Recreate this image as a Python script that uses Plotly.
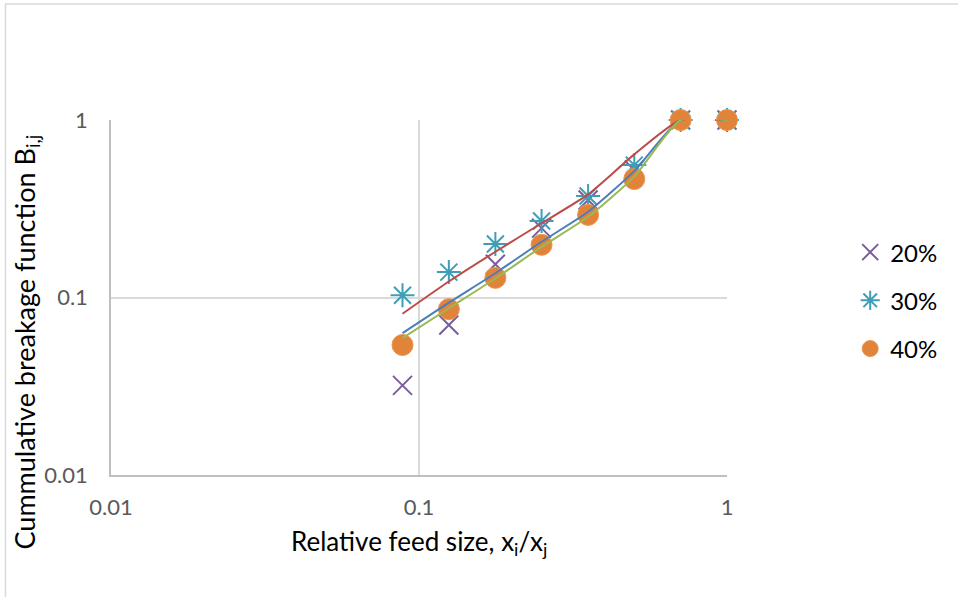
import plotly.graph_objects as go

# Relative feed size x_i/x_j (root-2 sieve series)
size_ratio = [0.0884, 0.125, 0.177, 0.25, 0.354, 0.5, 0.707, 1.0]

# Measured cumulative breakage function B_i,j
b_20 = [0.032, 0.070, 0.154, 0.246, 0.354, 0.523, 1.0, 1.0]
b_30 = [0.103, 0.139, 0.200, 0.270, 0.373, 0.557, 1.0, 1.0]
b_40 = [0.054, 0.086, 0.129, 0.198, 0.292, 0.465, 1.0, 1.0]

# Fitted curves
fit_20 = [0.063, 0.0935, 0.137, 0.206, 0.304, 0.515, 1.0, 1.0]
fit_30 = [0.081, 0.123, 0.181, 0.262, 0.381, 0.640, 1.0, 1.0]
fit_40 = [0.059, 0.087, 0.128, 0.193, 0.285, 0.480, 1.0, 1.0]

series_names = ["20%", "30%", "40%"]
tick_vals = [0.01, 0.1, 1]
tick_text = ["0.01", "0.1", "1"]

FONT = "Lato"
fig = go.Figure()

fig.add_trace(go.Scatter(
    x=size_ratio, y=b_20, mode="markers", name=series_names[0],
    marker=dict(symbol="x-thin", size=19, line=dict(color="#7A5E9C", width=2)),
    cliponaxis=False, legendgroup="a"))
fig.add_trace(go.Scatter(
    x=size_ratio, y=b_30, mode="markers", name=series_names[1],
    marker=dict(symbol="asterisk", size=20, line=dict(color="#3E9EB8", width=2)),
    cliponaxis=False, legendgroup="b"))
fig.add_trace(go.Scatter(
    x=size_ratio, y=b_40, mode="markers", name=series_names[2],
    marker=dict(symbol="circle", size=21, color="#E2833A",
                line=dict(color="#E99650", width=1)),
    cliponaxis=False, legendgroup="c"))

for fit, col in [(fit_30, "#BE4B48"), (fit_20, "#4A7EBB"), (fit_40, "#98B954")]:
    fig.add_trace(go.Scatter(
        x=size_ratio, y=fit, mode="lines", showlegend=False,
        line=dict(color=col, width=2, shape="spline", smoothing=0.6),
        cliponaxis=False))

axis_common = dict(
    type="log", range=[-2, 0], tickvals=tick_vals, ticktext=tick_text,
    showgrid=True, gridcolor="#D9D9D9", gridwidth=1.5,
    showline=True, linecolor="#BFBFBF", linewidth=1.5,
    zeroline=False, ticks="",
    tickfont=dict(family=FONT, size=22, color="#595959"),
)
fig.update_xaxes(**axis_common, ticklabelstandoff=12)
fig.update_yaxes(**axis_common, ticklabelstandoff=17)

fig.update_layout(
    width=958, height=597,
    margin=dict(l=111, r=231, t=120, b=122),
    paper_bgcolor="white", plot_bgcolor="white",
    font=dict(family=FONT, color="#000000"),
    legend=dict(x=1.2, y=0.69, xanchor="left", yanchor="top",
                font=dict(family=FONT, size=24, color="#000000"),
                tracegroupgap=14, bgcolor="rgba(0,0,0,0)"),
    annotations=[
        dict(text="Relative feed size, x<sub>i</sub>/x<sub>j</sub>",
             xref="paper", yref="paper", x=0.5, y=-0.19,
             xanchor="center", yanchor="middle", showarrow=False,
             font=dict(family=FONT, size=26, color="#000000")),
        dict(text="Cummulative breakage function B<sub>i,j</sub>",
             xref="paper", yref="paper", x=-0.137, y=0.375,
             xanchor="center", yanchor="middle", showarrow=False, textangle=-90,
             font=dict(family=FONT, size=27, color="#000000")),
    ],
    shapes=[
        dict(type="rect", xref="paper", yref="paper",
             x0=-0.1713, x1=1.45, y0=-0.45, y1=1.3268,
             line=dict(color="#D9D9D9", width=1.5), layer="below"),
    ],
)

fig.write_html("out.html")
